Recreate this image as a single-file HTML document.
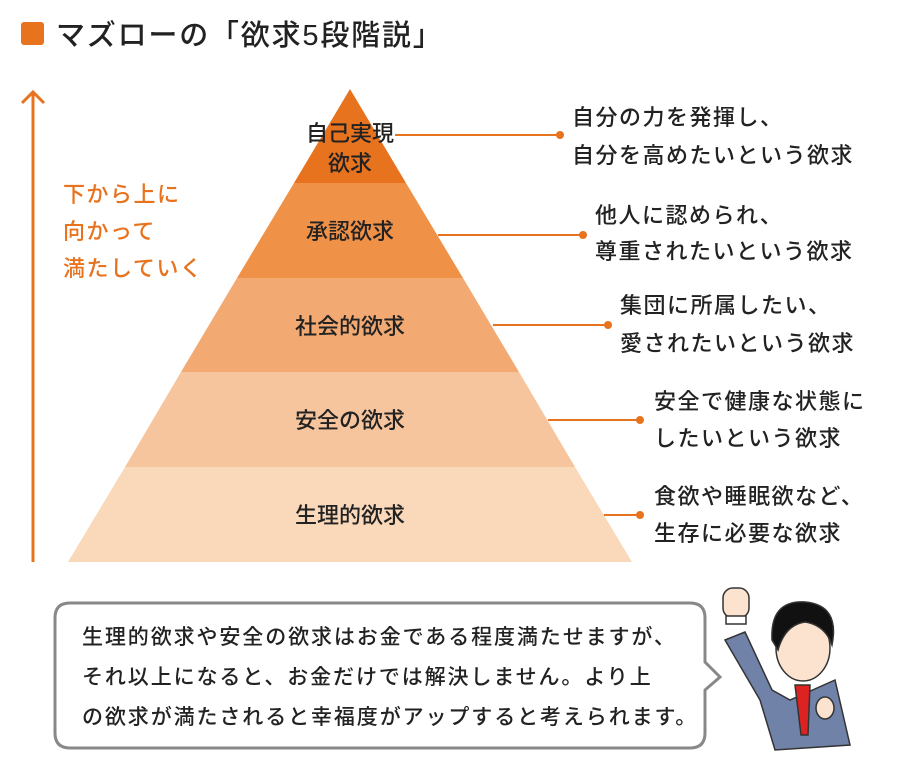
<!DOCTYPE html>
<html><head><meta charset="utf-8"><style>
body{margin:0;background:#fff;width:900px;height:772px;overflow:hidden}
svg{display:block}
text{font-family:"Liberation Sans","Noto Sans CJK JP",sans-serif;font-weight:500}
</style></head><body>
<svg width="900" height="772" viewBox="0 0 900 772">
<rect x="21" y="22" width="23" height="23" rx="3" fill="#e8731f"/>
<text x="56" y="45" font-size="29" fill="#222" font-weight="500" letter-spacing="1.8">マズローの「欲求5段階説」</text>
<line x1="33" y1="92" x2="33" y2="562" stroke="#e8731f" stroke-width="3"/>
<polyline points="22,103 33,92 44,103" fill="none" stroke="#e8731f" stroke-width="3"/>
<g font-size="22" fill="#e8731f" letter-spacing="1.5">
<text x="63" y="202">下から上に</text>
<text x="63" y="239">向かって</text>
<text x="63" y="276">満たしていく</text>
</g>
<polygon points="350,89 406,183 294,183" fill="#e8731f"/>
<polygon points="294,183 406,183 463,278 237,278" fill="#f09148"/>
<polygon points="237,278 463,278 519,372 181,372" fill="#f3aa72"/>
<polygon points="181,372 519,372 575,467 125,467" fill="#f7c59d"/>
<polygon points="125,467 575,467 632,562 68,562" fill="#fad8ba"/>
<g stroke="#e8731f" stroke-width="2">
<line x1="395" y1="135" x2="560" y2="135"/>
<line x1="438" y1="235" x2="583" y2="235"/>
<line x1="493" y1="325" x2="608" y2="325"/>
<line x1="548" y1="420" x2="640" y2="420"/>
<line x1="604" y1="515" x2="640" y2="515"/>
</g>
<g fill="#e8731f">
<circle cx="560" cy="135" r="4"/><circle cx="583" cy="235" r="4"/><circle cx="608" cy="325" r="4"/><circle cx="640" cy="420" r="4"/><circle cx="640" cy="515" r="4"/>
</g>
<g font-size="22" fill="#222" text-anchor="middle">
<text x="350" y="141">自己実現</text>
<text x="350" y="171">欲求</text>
<text x="350" y="239">承認欲求</text>
<text x="350" y="334">社会的欲求</text>
<text x="350" y="428">安全の欲求</text>
<text x="350" y="523">生理的欲求</text>
</g>
<g font-size="22" fill="#222" letter-spacing="1.5">
<text x="572" y="125">自分の力を発揮し、</text>
<text x="572" y="163">自分を高めたいという欲求</text>
<text x="595" y="223">他人に認められ、</text>
<text x="595" y="259">尊重されたいという欲求</text>
<text x="620" y="313">集団に所属したい、</text>
<text x="620" y="351">愛されたいという欲求</text>
<text x="654" y="409">安全で健康な状態に</text>
<text x="654" y="446">したいという欲求</text>
<text x="654" y="504">食欲や睡眠欲など、</text>
<text x="654" y="541">生存に必要な欲求</text>
</g>
<path d="M70,603 H690 Q705,603 705,618 V662 L720,677 L705,690 V733 Q705,748 690,748 H70 Q55,748 55,733 V618 Q55,603 70,603 Z" fill="#fff" stroke="#888" stroke-width="3"/>
<g font-size="21" fill="#222" letter-spacing="1.9">
<text x="82" y="644">生理的欲求や安全の欲求はお金である程度満たせますが、</text>
<text x="82" y="684">それ以上になると、お金だけでは解決しません。より上</text>
<text x="82" y="724">の欲求が満たされると幸福度がアップすると考えられます。</text>
</g>
<g stroke="#333" stroke-width="1.5">
<path d="M725,640 L745,632 L772,690 L790,700 L835,680 L850,745 L775,750 L760,700 Z" fill="#7182a8"/>
<rect x="723" y="588" width="26" height="30" rx="10" fill="#fbe3cf"/>
<rect x="726" y="616" width="20" height="8" fill="#fff"/>
<ellipse cx="803" cy="648" rx="27" ry="33" fill="#fbe3cf"/>
<path d="M772,640 Q770,600 805,602 Q840,605 832,645 Q825,625 805,622 Q785,625 778,650 Z" fill="#111"/>
<path d="M795,685 L810,685 L808,735 L801,735 Z" fill="#d22"/>
<ellipse cx="825" cy="708" rx="9" ry="11" fill="#fbe3cf"/>
</g>
</svg>
</body></html>
